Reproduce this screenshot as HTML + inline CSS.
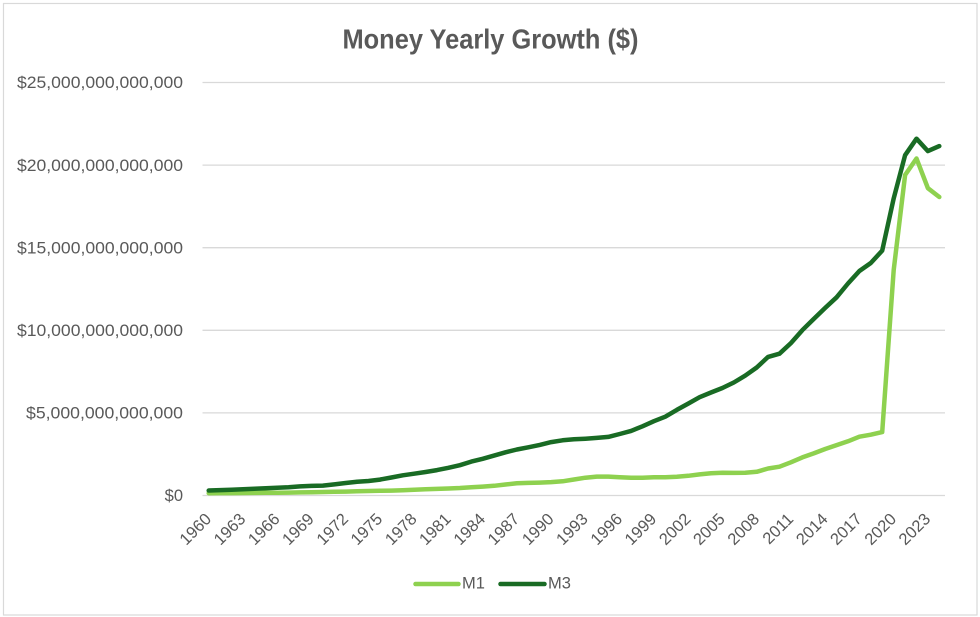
<!DOCTYPE html>
<html>
<head>
<meta charset="utf-8">
<style>
  html,body{margin:0;padding:0;background:#fff;}
  svg{display:block;}
  text{font-family:"Liberation Sans",Arial,sans-serif;fill:#595959;}
</style>
</head>
<body>
<svg width="980" height="617" viewBox="0 0 980 617" xmlns="http://www.w3.org/2000/svg">
  <rect x="0" y="0" width="980" height="617" fill="#ffffff"/>
  <rect x="3.5" y="3.5" width="973.5" height="611.5" fill="none" stroke="#d9d9d9" stroke-width="1.2"/>

  <!-- Title -->
  <text x="490.5" y="48.3" text-anchor="middle" font-size="28" font-weight="bold" textLength="296" lengthAdjust="spacingAndGlyphs">Money Yearly Growth ($)</text>

  <!-- Gridlines -->
  <g stroke="#d9d9d9" stroke-width="1.3">
    <line x1="202.5" y1="82.5" x2="945" y2="82.5"/>
    <line x1="202.5" y1="165.1" x2="945" y2="165.1"/>
    <line x1="202.5" y1="247.7" x2="945" y2="247.7"/>
    <line x1="202.5" y1="330.3" x2="945" y2="330.3"/>
    <line x1="202.5" y1="412.9" x2="945" y2="412.9"/>
    <line x1="202.5" y1="495.5" x2="945" y2="495.5"/>
  </g>

  <!-- Y labels -->
  <g font-size="16.5" text-anchor="end">
    <text x="183" y="88.2" textLength="166" lengthAdjust="spacingAndGlyphs">$25,000,000,000,000</text>
    <text x="183" y="170.8" textLength="166" lengthAdjust="spacingAndGlyphs">$20,000,000,000,000</text>
    <text x="183" y="253.4" textLength="166" lengthAdjust="spacingAndGlyphs">$15,000,000,000,000</text>
    <text x="183" y="336.0" textLength="166" lengthAdjust="spacingAndGlyphs">$10,000,000,000,000</text>
    <text x="183" y="418.6" textLength="157" lengthAdjust="spacingAndGlyphs">$5,000,000,000,000</text>
    <text x="183" y="501.2">$0</text>
  </g>

  <!-- X labels -->
  <g font-size="16.5" text-anchor="end">
    <text transform="translate(212.2,520) rotate(-45)">1960</text>
    <text transform="translate(246.5,520) rotate(-45)">1963</text>
    <text transform="translate(280.7,520) rotate(-45)">1966</text>
    <text transform="translate(314.9,520) rotate(-45)">1969</text>
    <text transform="translate(349.2,520) rotate(-45)">1972</text>
    <text transform="translate(383.4,520) rotate(-45)">1975</text>
    <text transform="translate(417.7,520) rotate(-45)">1978</text>
    <text transform="translate(451.9,520) rotate(-45)">1981</text>
    <text transform="translate(486.2,520) rotate(-45)">1984</text>
    <text transform="translate(520.4,520) rotate(-45)">1987</text>
    <text transform="translate(554.7,520) rotate(-45)">1990</text>
    <text transform="translate(588.9,520) rotate(-45)">1993</text>
    <text transform="translate(623.2,520) rotate(-45)">1996</text>
    <text transform="translate(657.4,520) rotate(-45)">1999</text>
    <text transform="translate(691.7,520) rotate(-45)">2002</text>
    <text transform="translate(725.9,520) rotate(-45)">2005</text>
    <text transform="translate(760.2,520) rotate(-45)">2008</text>
    <text transform="translate(794.4,520) rotate(-45)">2011</text>
    <text transform="translate(828.7,520) rotate(-45)">2014</text>
    <text transform="translate(862.9,520) rotate(-45)">2017</text>
    <text transform="translate(897.2,520) rotate(-45)">2020</text>
    <text transform="translate(931.4,520) rotate(-45)">2023</text>
  </g>

  <!-- M1 series -->
  <polyline fill="none" stroke="#8ed14f" stroke-width="4.5" stroke-linejoin="round" stroke-linecap="round" points="
208.7,493.2 220.1,493.1 231.5,493.1 243.0,493.0 254.4,492.9 265.8,492.8 277.2,492.7 288.6,492.6 300.0,492.4 311.4,492.2
322.9,492.0 334.3,491.8 345.7,491.6 357.1,491.3 368.5,491.0 379.9,490.8 391.4,490.6 402.8,490.2 414.2,489.7 425.6,489.3
437.0,488.9 448.4,488.5 459.9,488.0 471.3,487.2 482.7,486.6 494.1,485.8 505.5,484.5 516.9,483.3 528.3,482.9 539.8,482.6
551.2,482.1 562.6,481.3 574.0,479.5 585.4,477.7 596.8,476.6 608.3,476.6 619.7,477.2 631.1,477.8 642.5,477.7 653.9,477.3
665.3,477.3 676.8,476.7 688.2,475.8 699.6,474.4 711.0,473.3 722.4,472.8 733.8,472.9 745.3,472.8 756.7,471.8 768.1,468.5
779.5,466.7 790.9,462.3 802.3,457.4 813.7,453.4 825.2,449.0 836.6,445.1 848.0,441.3 859.4,436.7 870.8,434.7 882.2,432.1
893.7,270.0 905.1,175.0 916.5,158.5 927.9,188.2 939.3,197.0"/>

  <!-- M3 series -->
  <polyline fill="none" stroke="#196b24" stroke-width="4.5" stroke-linejoin="round" stroke-linecap="round" points="
208.7,490.5 220.1,490.1 231.5,489.7 243.0,489.2 254.4,488.7 265.8,488.2 277.2,487.7 288.6,487.2 300.0,486.4 311.4,485.9
322.9,485.6 334.3,484.4 345.7,483.0 357.1,481.8 368.5,481.0 379.9,479.6 391.4,477.5 402.8,475.3 414.2,473.7 425.6,472.0
437.0,470.1 448.4,467.8 459.9,465.2 471.3,461.6 482.7,458.8 494.1,455.6 505.5,452.3 516.9,449.5 528.3,447.3 539.8,444.9
551.2,442.1 562.6,440.3 574.0,439.3 585.4,438.7 596.8,437.9 608.3,436.9 619.7,434.0 631.1,430.9 642.5,426.3 653.9,421.2
665.3,416.7 676.8,409.9 688.2,403.6 699.6,397.2 711.0,392.5 722.4,388.0 733.8,382.5 745.3,375.6 756.7,367.5 768.1,356.9
779.5,353.7 790.9,343.1 802.3,330.2 813.7,319.0 825.2,307.9 836.6,297.3 848.0,283.5 859.4,271.0 870.8,263.0 882.2,250.6
893.7,198.4 905.1,155.2 916.5,138.7 927.9,151.1 939.3,146.1"/>

  <!-- Legend -->
  <line x1="415.5" y1="584" x2="458.5" y2="584" stroke="#8ed14f" stroke-width="4.5" stroke-linecap="round"/>
  <text x="462" y="588.5" font-size="16.5">M1</text>
  <line x1="500.5" y1="584" x2="544.5" y2="584" stroke="#196b24" stroke-width="4.5" stroke-linecap="round"/>
  <text x="548" y="588.5" font-size="16.5">M3</text>
</svg>
</body>
</html>
